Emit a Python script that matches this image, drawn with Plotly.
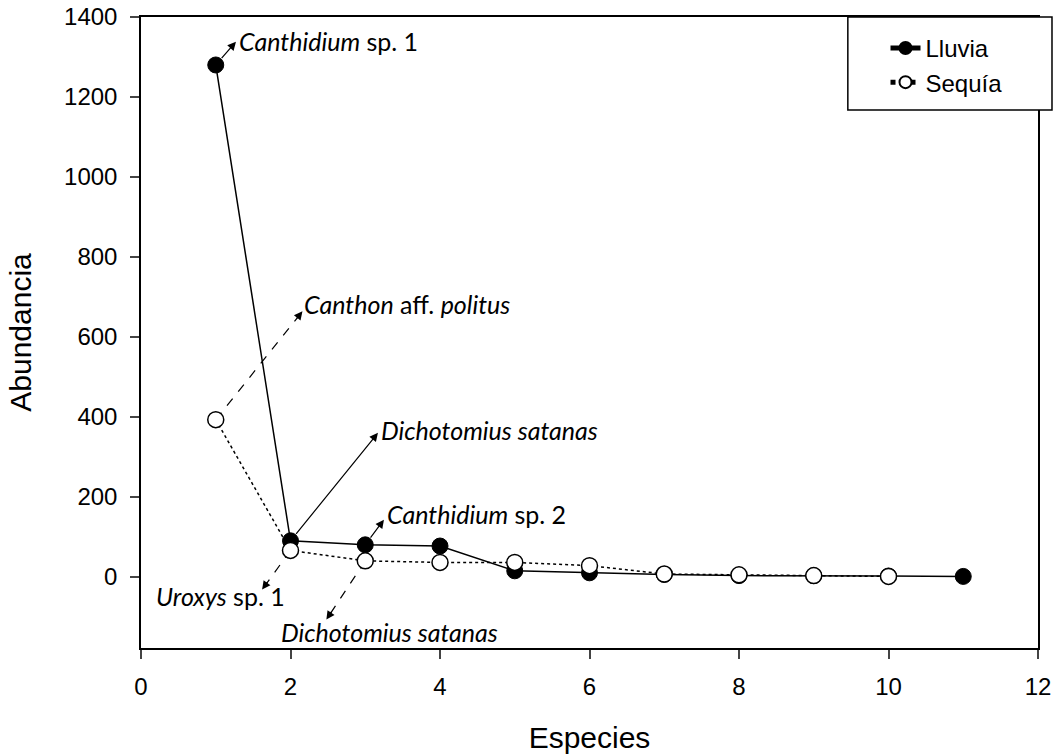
import plotly.graph_objects as go
import math

# ---------------- data ----------------
species_lluvia = [1, 2, 3, 4, 5, 6, 7, 8, 9, 10, 11]
abund_lluvia = [1280, 90, 80, 77, 15, 10, 6, 3, 3, 2, 1]
species_sequia = [1, 2, 3, 4, 5, 6, 7, 8, 9, 10]
abund_sequia = [393, 66, 40, 36, 36, 28, 7, 5, 3, 1]

x_ticks = [0, 2, 4, 6, 8, 10, 12]
y_ticks = [0, 200, 400, 600, 800, 1000, 1200, 1400]

label_text = ["<i>Canthidium</i> sp. 1", "<i>Canthon</i> aff. <i>politus</i>",
              "<i>Dichotomius satanas</i>", "<i>Canthidium</i> sp. 2",
              "<i>Uroxys</i> sp. 1", "<i>Dichotomius satanas</i>"]
label_series = ["lluvia", "sequia", "lluvia", "lluvia", "sequia", "sequia"]
label_point = [0, 0, 1, 2, 1, 2]
label_head_x = [1.27, 2.16, 3.17, 3.25, 1.62, 2.48]
label_head_y = [1338, 664, 360, 143, -32, -107]
label_x = [1.28, 2.15, 3.18, 3.27, 1.06, 3.33]
label_y = [1339, 683, 368, 156, -49, -139]
label_anchor = ["left", "left", "left", "left", "center", "center"]
label_dashed = [False, True, False, False, True, True]

W, H = 1060, 755
ML, MR, MT, MB = 141, 22, 17, 107
XR = [0, 12]
YR = [-178, 1400]
px_per_x = (W - ML - MR) / (XR[1] - XR[0])
px_per_y = (H - MT - MB) / (YR[1] - YR[0])

fig = go.Figure()

fig.add_trace(go.Scatter(
    x=species_lluvia, y=abund_lluvia, name="Lluvia", mode="lines+markers",
    line=dict(color="black", width=1.5),
    marker=dict(symbol="circle", size=16, color="black", line=dict(color="black", width=1)),
))
fig.add_trace(go.Scatter(
    x=species_sequia, y=abund_sequia, name="Sequía", mode="lines+markers",
    line=dict(color="black", width=1.5, dash="dot"),
    marker=dict(symbol="circle", size=16, color="white", line=dict(color="black", width=1.5)),
))

annotations = []
shapes = []
for i, txt in enumerate(label_text):
    if label_series[i] == "lluvia":
        tx, ty = species_lluvia[label_point[i]], abund_lluvia[label_point[i]]
    else:
        tx, ty = species_sequia[label_point[i]], abund_sequia[label_point[i]]
    hx, hy = label_head_x[i], label_head_y[i]
    if label_dashed[i]:
        shapes.append(dict(type="line", xref="x", yref="y", x0=tx, y0=ty, x1=hx, y1=hy,
                           line=dict(color="black", width=1.2, dash="dash"), layer="below"))
        plen = math.hypot((hx - tx) * px_per_x, (hy - ty) * px_per_y)
        f = 1 - 11.0 / plen
        ax, ay = tx + (hx - tx) * f, ty + (hy - ty) * f
        annotations.append(dict(x=hx, y=hy, ax=ax, ay=ay, xref="x", yref="y",
                                axref="x", ayref="y", text="", showarrow=True,
                                arrowhead=2, arrowsize=1.4, arrowwidth=1.2, arrowcolor="black"))
    else:
        annotations.append(dict(x=hx, y=hy, ax=tx, ay=ty, xref="x", yref="y",
                                axref="x", ayref="y", text="", showarrow=True,
                                arrowhead=2, arrowsize=1.4, arrowwidth=1.2, arrowcolor="black",
                                startstandoff=7))
    annotations.append(dict(x=label_x[i], y=label_y[i], xref="x", yref="y", text=txt,
                            showarrow=False, xanchor=label_anchor[i], yanchor="middle",
                            font=dict(family="Lato", size=25, color="black")))

# legend box
shapes.append(dict(type="rect", xref="paper", yref="paper", x0=0.788, x1=1.0156, y0=0.8526, y1=1.0,
                   line=dict(color="black", width=1.5), fillcolor="white", layer="above"))

fig.update_layout(
    width=W, height=H,
    margin=dict(l=ML, r=MR, t=MT, b=MB, autoexpand=False),
    paper_bgcolor="white", plot_bgcolor="white",
    font=dict(family="Liberation Sans, Arial, sans-serif", color="black"),
    showlegend=True,
    legend=dict(x=0.83, y=0.986, xanchor="left", yanchor="top",
                bgcolor="rgba(0,0,0,0)", borderwidth=0,
                font=dict(family="Liberation Sans, Arial", size=24, color="black"),
                tracegroupgap=0, itemsizing="constant"),
    annotations=annotations,
    shapes=shapes,
)
fig.update_xaxes(range=XR, tickvals=x_ticks, ticks="outside", ticklen=9, tickwidth=1.5,
                 showline=True, linecolor="black", linewidth=1.5, mirror=True,
                 showgrid=False, zeroline=False, automargin=False, ticklabelstandoff=7,
                 tickfont=dict(size=24, color="black"),
                 title=dict(text="Especies", font=dict(size=30, color="black"), standoff=28))
fig.update_yaxes(range=YR, tickvals=y_ticks, ticks="outside", ticklen=9, tickwidth=1.5,
                 showline=True, linecolor="black", linewidth=1.5, mirror=True,
                 showgrid=False, zeroline=False, automargin=False, ticklabelstandoff=8,
                 tickfont=dict(size=24, color="black"),
                 title=dict(text="Abundancia", font=dict(size=30, color="black"), standoff=24))

fig.write_html("out.html")
